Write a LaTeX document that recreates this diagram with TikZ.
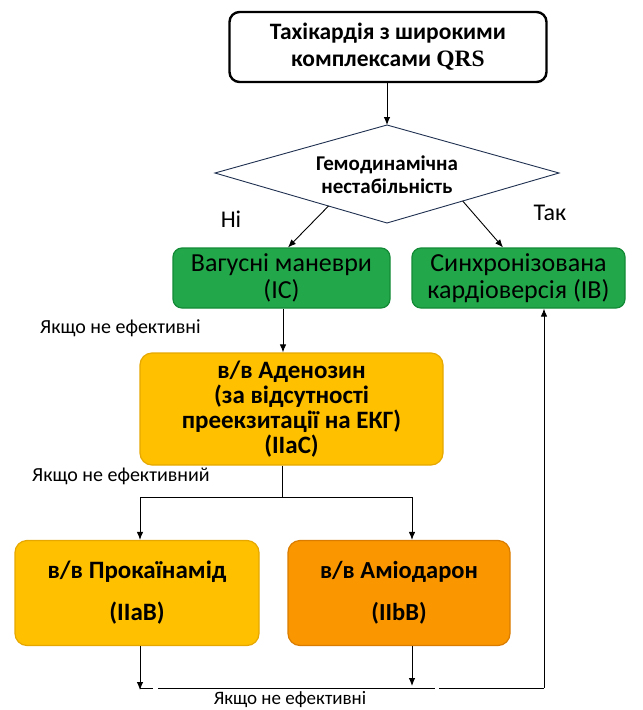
\documentclass[tikz,border=0pt]{standalone}
\usepackage{fontspec}
\setmainfont{Carlito}
\newfontfamily\qrsfont{Liberation Serif}
\usetikzlibrary{arrows.meta,calc}

\definecolor{boxgreen}{HTML}{22A84A}
\definecolor{edgegreen}{HTML}{138A36}
\definecolor{boxyellow}{HTML}{FFC000}
\definecolor{edgeyellow}{HTML}{E6A800}
\definecolor{boxorange}{HTML}{FA9600}
\definecolor{edgeorange}{HTML}{D97C00}
\definecolor{diamondedge}{HTML}{1F3050}

\begin{document}
\begin{tikzpicture}[x=1pt,y=-1pt,
  startbox/.style={draw=black, line width=2.4pt, rounded corners=10pt, fill=white,
    align=center, inner sep=0pt, font=\fontsize{23.5}{27}\selectfont\bfseries},
  greenbox/.style={draw=edgegreen, line width=1.2pt, fill=boxgreen, rounded corners=9pt,
    align=center, inner sep=0pt, minimum height=60pt, font=\fontsize{26}{26.5}\selectfont},
  yellowbox/.style={draw=edgeyellow, line width=1.2pt, fill=boxyellow, rounded corners=12pt,
    align=center, inner sep=0pt, font=\fontsize{25}{25}\selectfont\bfseries},
  orangebox/.style={draw=edgeorange, line width=1.2pt, fill=boxorange, rounded corners=12pt,
    align=center, inner sep=0pt, font=\fontsize{24.5}{42}\selectfont\bfseries},
  note/.style={inner sep=0pt, font=\fontsize{20}{22}\selectfont},
  answer/.style={inner sep=0pt, font=\fontsize{24}{26}\selectfont},
  arr/.style={draw=black, line width=0.9pt, -{Latex[length=8pt,width=6.5pt]}},
  wire/.style={draw=black, line width=0.9pt}]
\useasboundingbox (0,0) rectangle (643,710);

% start of the algorithm
\node[startbox, minimum width=317pt, minimum height=70pt] (start) at (388,47)
  {Тахікардія з широкими\\комплексами {\qrsfont QRS}};

% decision diamond
\coordinate (dT) at (387,125);
\coordinate (dL) at (215,173);
\coordinate (dR) at (559,173);
\coordinate (dB) at (387,223);
\draw[diamondedge, line width=0.9pt, fill=white] (dT) -- (dR) -- (dB) -- (dL) -- cycle;
\node[align=center, inner sep=0pt, font=\fontsize{21}{23}\selectfont\bfseries] (q) at (387,175)
  {Гемодинамічна\\нестабільність};

\node[answer] (no) at (231,219) {Ні};
\node[answer] (yes) at (550,213) {Так};

% first-line actions
\node[greenbox, minimum width=217pt] (vag) at (281.5,278) {Вагусні маневри\\(IC)};
\node[greenbox, minimum width=213pt] (card) at (518.5,278) {Синхронізована\\кардіоверсія (IB)};

% adenosine
\node[yellowbox, minimum width=303pt, minimum height=112pt] (aden) at (291.5,409)
  {в/в Аденозин\\(за відсутності\\преекзитації на ЕКГ)\\(IIaC)};

% second-line drugs
\node[yellowbox, minimum width=244pt, minimum height=105pt,
  font=\fontsize{25}{42}\selectfont\bfseries] (proc) at (137,593)
  {в/в Прокаїнамід\\(IIaB)};
\node[orangebox, minimum width=222pt, minimum height=105pt] (amio) at (399,593)
  {в/в Аміодарон\\(IIbB)};

% labels on the connectors
\node[note, anchor=west] (n1) at (40,328) {Якщо не ефективні};
\node[note, anchor=west] (n2) at (32,476) {Якщо не ефективний};
\node[note, font=\fontsize{19}{21}\selectfont] (n3) at (290,700) {Якщо не ефективні};

% connectors
\draw[arr] (start.south -| dT) -- (dT);
\draw[arr] ($(dL)!0.66!(dB)$) -- ([xshift=6.5pt]vag.north);
\draw[arr] ($(dB)!0.44!(dR)$) -- ([xshift=-15.5pt]card.north);
\draw[arr] ([xshift=1.5pt]vag.south) -- ([xshift=1.5pt]vag.south |- aden.north);

\coordinate (split) at (282,497);
\coordinate (jL) at (140,497);
\coordinate (jR) at (412,497);
\draw[wire] ([xshift=-9.5pt]aden.south) -- (split);
\draw[wire] (jL) -- (jR);
\draw[arr] (jL) -- (jL |- proc.north);
\draw[arr] (jR) -- (jR |- amio.north);

\coordinate (bL) at (140,688);
\coordinate (bR) at (544,688);
\draw[arr] (proc.south -| bL) -- ([yshift=-2pt]bL);
\draw[arr] (amio.south -| jR) -- (412,686);
\draw[wire] (bL) -- (153,688);
\draw[wire] (158,688) -- (435,688);
\draw[wire] (439,688) -- (bR);
\draw[arr] (bR) -- (bR |- card.south);
\end{tikzpicture}
\end{document}
